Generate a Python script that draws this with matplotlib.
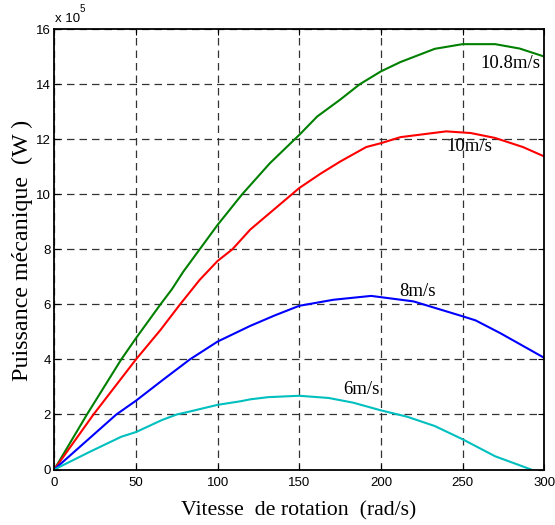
import matplotlib
matplotlib.use("Agg")
import matplotlib.pyplot as plt

# Mechanical power vs rotor speed for four wind speeds (values in units of 1e5 W)
x_108 = [0, 20, 41, 50, 65, 72, 79, 89, 100, 115, 132, 150, 161, 175, 187,
         200, 212, 233, 250, 270, 285, 300]
p_108 = [0, 2.0, 4.0, 4.77, 6.0, 6.55, 7.19, 8.0, 8.89, 10.0, 11.13, 12.16,
         12.83, 13.44, 14.0, 14.47, 14.81, 15.29, 15.46, 15.46, 15.3, 15.01]

x_10 = [0, 24, 50, 65, 77, 89, 100, 109, 120, 150, 163, 175, 191, 200, 212,
        240, 255, 270, 287, 300]
p_10 = [0, 2.0, 4.0, 5.07, 6.0, 6.89, 7.58, 8.0, 8.72, 10.23, 10.75, 11.19,
        11.72, 11.86, 12.08, 12.29, 12.23, 12.05, 11.72, 11.38]

x_8 = [0, 38, 50, 67, 83, 100, 120, 135, 150, 171, 194, 220, 250, 258, 273, 300]
p_8 = [0, 2.0, 2.5, 3.28, 4.0, 4.65, 5.22, 5.6, 5.95, 6.17, 6.31, 6.11, 5.57,
       5.42, 4.96, 4.06]

x_6 = [0, 22, 41, 50, 66, 75, 81, 100, 114, 120, 131, 150, 168, 183, 200, 216,
       233, 250, 270, 292]
p_6 = [0, 0.65, 1.19, 1.36, 1.80, 2.0, 2.08, 2.35, 2.48, 2.55, 2.63, 2.68,
       2.60, 2.43, 2.15, 1.92, 1.58, 1.10, 0.48, 0.0]

curve_labels = ["10.8m/s", "10m/s", "8m/s", "6m/s"]
label_x = [261, 240, 211, 177]
label_y = [14.76, 11.75, 6.48, 2.9]

W, H = 555, 525
fig = plt.figure(figsize=(W / 100, H / 100), dpi=100)
ax = fig.add_axes([0.0978, 0.1057, 0.8827, 0.8385])

ax.plot(x_108, p_108, color="#008000", lw=1.5)
ax.plot(x_10, p_10, color="#ff0000", lw=1.5)
ax.plot(x_8, p_8, color="#0000ff", lw=1.5)
ax.plot(x_6, p_6, color="#00bfbf", lw=1.5)

for txt, tx, ty in zip(curve_labels, label_x, label_y):
    ax.text(tx, ty, txt, family="Liberation Serif", fontsize=13.5,
            va="center", ha="left", color="black")

ax.set_xlim(0, 300)
ax.set_ylim(0, 16)
ax.set_xticks(range(0, 301, 50))
ax.set_yticks(range(0, 17, 2))
ax.grid(True, color="#333333", linestyle=(0, (6, 4)), lw=0.9)
ax.tick_params(direction="in", top=True, right=True, length=4,
               labelsize=9.5)
ax.tick_params(axis="x", pad=5.5)
ax.tick_params(axis="y", pad=2.5)
for lab in ax.get_xticklabels() + ax.get_yticklabels():
    lab.set_family("Liberation Sans")
for sp in ax.spines.values():
    sp.set_linewidth(1.3)

# axis titles placed by baseline
fig.text(299 / W, 1 - 515 / H, "Vitesse  de rotation  (rad/s)",
         family="Liberation Serif", fontsize=15.7, ha="center", va="baseline")
fig.text(28.5 / W, 1 - 250 / H, "Puissance mécanique  (W )",
         family="Liberation Serif", fontsize=17.3, rotation=90,
         rotation_mode="anchor", ha="center", va="baseline")

# exponent for the y axis
fig.text(55 / W, 1 - 21.5 / H, "x 10", family="Liberation Sans", fontsize=9.5,
         ha="left", va="baseline")
fig.text(80 / W, 1 - 12 / H, "5", family="Liberation Sans", fontsize=7,
         ha="left", va="baseline")

fig.savefig("out.png", dpi=100)
